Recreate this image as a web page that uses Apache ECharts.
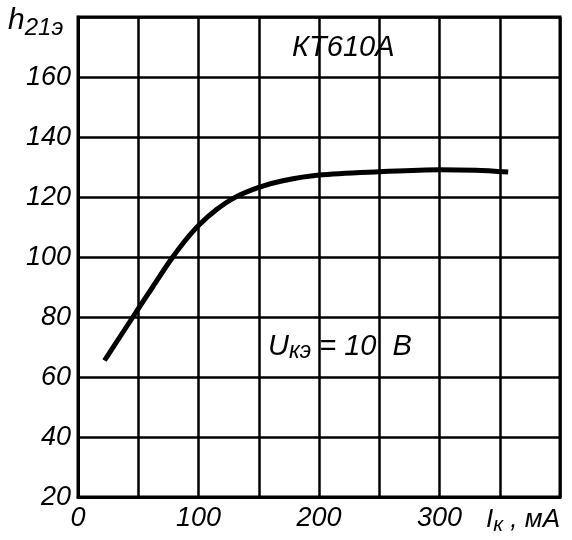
<!DOCTYPE html>
<html>
<head>
<meta charset="utf-8">
<title>КТ610А</title>
<script src="https://cdn.jsdelivr.net/npm/echarts@6/dist/echarts.min.js"></script>
<style>
	html, body { margin: 0; padding: 0; background: #fff; }
	#echart-container { width: 572px; height: 540px; }
</style>
</head>
<body>
<div id="echart-container"></div>
<script>
	"use strict";

	// ток коллектора, мА
	var currentMA = [22, 35, 48, 62, 76, 88, 100, 115, 130, 150, 170, 200, 250, 300, 330, 357];
	// коэффициент передачи тока h21э
	var gainH21 = [65.5, 73.5, 81.5, 90, 98.5, 105, 110.5, 115.8, 119.8, 123.2, 125.4, 127.3, 128.4, 129.1, 128.9, 128.3];
	var xTickLabels = ['0', '100', '200', '300'];
	var yTickLabels = ['20', '40', '60', '80', '100', '120', '140', '160'];

	var fontFam = '"Liberation Sans", "DejaVu Sans", sans-serif';

	initEcharts();

	/**
	 * инициализация графика
	 */
	function initEcharts(){
		var dom = document.getElementById("echart-container");
		var myChart = echarts.init(dom, null, {renderer: 'canvas'});
		var points = [];
		for (var i = 0; i < currentMA.length; i++) {
			points.push([currentMA[i], gainH21[i]]);
		}
		var option = {
			animation: false,
			backgroundColor: '#fff',
			grid: { left: 78, right: 12, top: 17, bottom: 43 },
			xAxis: {
				type: 'value',
				min: 0, max: 400, interval: 50,
				axisLine: { show: true, onZero: false, lineStyle: { color: '#000', width: 3 } },
				axisTick: { show: false },
				splitLine: { show: true, lineStyle: { color: '#000', width: 2.5 } },
				axisLabel: {
					margin: 8,
					color: '#000', fontSize: 27, fontStyle: 'italic', fontFamily: fontFam,
					formatter: function(v){
						var s = String(v);
						return xTickLabels.indexOf(s) >= 0 ? s : '';
					}
				}
			},
			yAxis: {
				type: 'value',
				min: 20, max: 180, interval: 20,
				axisLine: { show: true, onZero: false, lineStyle: { color: '#000', width: 3 } },
				axisTick: { show: false },
				splitLine: { show: true, lineStyle: { color: '#000', width: 2.5 } },
				axisLabel: {
					margin: 7,
					color: '#000', fontSize: 27, fontStyle: 'italic', fontFamily: fontFam,
					formatter: function(v){
						var s = String(v);
						return yTickLabels.indexOf(s) >= 0 ? s : '';
					}
				}
			},
			graphic: [
				{ // рамка справа и сверху
					type: 'rect', silent: true, z: 5,
					shape: { x: 78, y: 17, width: 482, height: 480 },
					style: { fill: 'none', stroke: '#000', lineWidth: 3 }
				},
				{
					type: 'text', left: 8, top: 6, z: 10,
					style: {
						text: '{m|h}{s|21э}',
						rich: {
							m: { fontSize: 30, fontStyle: 'italic', fontFamily: fontFam, fill: '#000' },
							s: { fontSize: 24, fontStyle: 'italic', fontFamily: fontFam, fill: '#000', padding: [14, 0, 0, 0] }
						}
					}
				},
				{
					type: 'text', left: 292, top: 33, z: 10,
					style: { text: 'КТ610А', fontSize: 29, fontStyle: 'italic', fontFamily: fontFam, fill: '#000' }
				},
				{
					type: 'group', left: 262, top: 324, z: 10,
					children: [
						{ type: 'rect', shape: { x: 0, y: 0, width: 172, height: 46 }, style: { fill: '#fff' } },
						{
							type: 'text', x: 6, y: 6,
							style: {
								text: '{m|U}{s|кэ}{m| = 10  В}',
								rich: {
									m: { fontSize: 29, fontStyle: 'italic', fontFamily: fontFam, fill: '#000' },
									s: { fontSize: 23, fontStyle: 'italic', fontFamily: fontFam, fill: '#000', padding: [10, 0, 0, 0] }
								}
							}
						}
					]
				},
				{ // подпись оси X
					type: 'group', left: 480, top: 500, z: 10,
					children: [
						{ type: 'rect', shape: { x: 0, y: 0, width: 92, height: 40 }, style: { fill: '#fff' } },
						{
							type: 'text', x: 6, y: 3,
							style: {
								text: '{m|I}{s|к}{m| , мА}',
								rich: {
									m: { fontSize: 26, fontStyle: 'italic', fontFamily: fontFam, fill: '#000' },
									s: { fontSize: 21, fontStyle: 'italic', fontFamily: fontFam, fill: '#000', padding: [12, 0, 0, 0] }
								}
							}
						}
					]
				}
			],
			series: [
				{
					name: 'h21э',
					type: 'line',
					smooth: 0.3,
					symbol: 'none',
					z: 8,
					lineStyle: { color: '#000', width: 5 },
					data: points
				}
			]
		};
		if (option && typeof option === "object") {
			myChart.setOption(option, true);
		}
	}
</script>
</body>
</html>
